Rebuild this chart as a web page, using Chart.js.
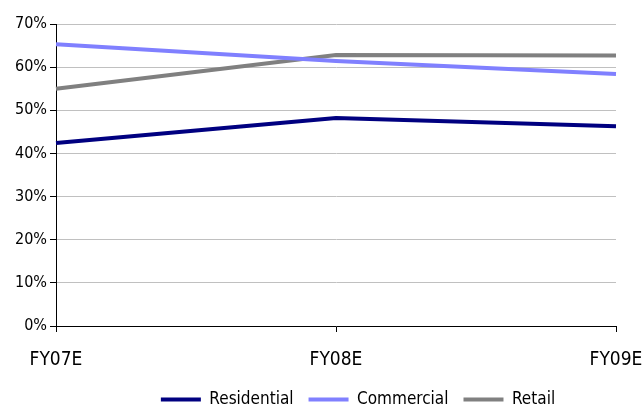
<!DOCTYPE html>
<html>
<head>
<meta charset="utf-8">
<script src="https://cdn.jsdelivr.net/npm/chart.js@4.4.1/dist/chart.umd.min.js"></script>
<style>
  html, body { margin: 0; padding: 0; background: #ffffff; }
  #wrap { width: 644px; height: 407px; }
</style>
</head>
<body>
<div id="wrap"><canvas id="chart" width="644" height="407"></canvas></div>
<script>
// Share of segment (%), by financial year
const categories = ['FY07E', 'FY08E', 'FY09E'];
const residential = [42.4, 48.2, 46.3];
const commercial = [65.3, 61.4, 58.4];
const retail = [55.0, 62.8, 62.7];
const yTickValues = [0, 10, 20, 30, 40, 50, 60, 70];

const FONT = "'DejaVu Sans Condensed', 'Liberation Sans Narrow', sans-serif";

const series = [
  { label: 'Residential', data: residential, color: '#000080' },
  { label: 'Commercial', data: commercial, color: '#8080ff' },
  { label: 'Retail', data: retail, color: '#808080' }
];

// Nudge the legend row sideways so it sits under the right-hand part of the plot
const legendShift = {
  id: 'legendShift',
  afterLayout(chart) {
    const lg = chart.legend;
    if (lg) { lg.left += 50; lg.right += 50; }
  }
};

new Chart(document.getElementById('chart'), {
  type: 'line',
  data: {
    labels: categories,
    datasets: series.map(s => ({
      label: s.label,
      data: s.data,
      borderColor: s.color,
      backgroundColor: s.color,
      borderWidth: 4,
      pointRadius: 0,
      tension: 0,
      fill: false
    }))
  },
  plugins: [legendShift],
  options: {
    responsive: false,
    devicePixelRatio: 1,
    animation: false,
    layout: { padding: { left: 0, right: 28, top: 24, bottom: -11 } },
    plugins: {
      tooltip: { enabled: false },
      legend: {
        position: 'bottom',
        labels: {
          boxWidth: 40,
          boxHeight: 4,
          padding: 15,
          color: '#000',
          font: { family: FONT, size: 17 },
          generateLabels(chart) {
            return chart.data.datasets.map((ds, i) => ({
              text: ds.label,
              fillStyle: ds.borderColor,
              strokeStyle: ds.borderColor,
              lineWidth: 0,
              hidden: false,
              datasetIndex: i
            }));
          }
        }
      }
    },
    scales: {
      x: {
        offset: false,
        grid: {
          drawOnChartArea: false,
          drawTicks: true,
          tickLength: 6,
          color: '#000'
        },
        border: { color: '#000', width: 1 },
        ticks: {
          color: '#000',
          font: { family: FONT, size: 19 },
          padding: 17,
          maxRotation: 0
        },
        afterFit(scale) {
          scale.height = 50;
          scale.paddingLeft = 0;
          scale.paddingRight = 0;
        }
      },
      y: {
        min: 0,
        max: 70,
        afterBuildTicks(scale) {
          scale.ticks = yTickValues.map(v => ({ value: v }));
        },
        grid: {
          color: '#c0c0c0',
          tickColor: '#000',
          tickLength: 6,
          lineWidth: 1
        },
        border: { color: '#000', width: 1 },
        ticks: {
          color: '#000',
          font: { family: FONT, size: 16 },
          padding: 3,
          callback: v => v + '%'
        },
        afterFit(scale) { scale.width = 56; }
      }
    }
  }
});
</script>
</body>
</html>
